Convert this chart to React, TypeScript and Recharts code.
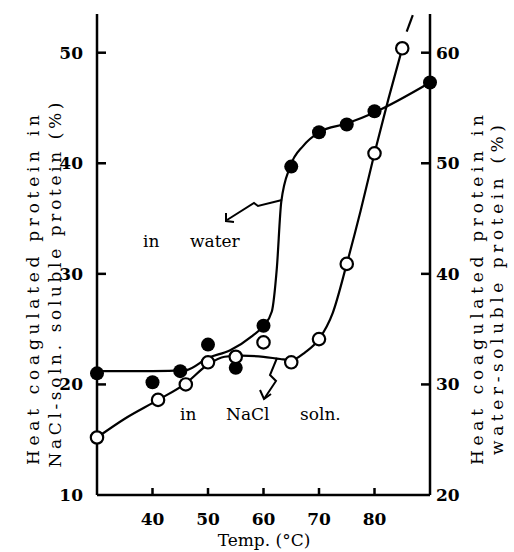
import React from "react";
import { ComposedChart, Line, Scatter, XAxis, YAxis } from "recharts";

// measured points, water-soluble (right axis, %)
const waterTemps = [30, 40, 45, 50, 55, 60, 65, 70, 75, 80, 90];
const waterPct = [31.0, 30.2, 31.2, 33.6, 31.5, 35.3, 49.7, 52.8, 53.5, 54.7, 57.3];

// measured points, NaCl-soln. soluble (left axis, %)
const naclTemps = [30, 41, 46, 50, 55, 60, 65, 70, 75, 80, 85];
const naclPct = [15.2, 18.6, 20.0, 22.0, 22.5, 23.8, 22.0, 24.1, 30.9, 40.9, 50.4];

// hand-drawn fitted curves
const waterCurveT = [30, 40, 46, 50, 54, 58, 60, 61.5, 62.4, 63.2, 64.8, 67.2, 70, 75, 80, 90];
const waterCurveV = [31.2, 31.2, 31.3, 32.4, 33.1, 34.4, 35.3, 36.6, 40.5, 46.5, 49.7, 51.6, 52.8, 53.6, 54.6, 57.3];

const naclCurveT = [30, 35, 41, 46, 50, 53, 56, 60, 63, 65, 67.5, 70, 72.5, 75, 77.5, 80, 82.5, 85];
const naclCurveV = [15.2, 16.9, 18.6, 20.1, 21.8, 22.5, 22.6, 22.5, 22.3, 22.2, 22.9, 24.1, 26.5, 30.9, 35.7, 40.9, 45.8, 50.4];

const naclDashT = [85.8, 86.9];
const naclDashV = [51.9, 53.4];

const xTicks = [40, 50, 60, 70, 80];
const leftTicks = [10, 20, 30, 40, 50];
const rightTicks = [20, 30, 40, 50, 60];

const zip = (ts: number[], vs: number[]) => ts.map((t, i) => ({ t, v: vs[i] }));

const waterPoints = zip(waterTemps, waterPct);
const naclPoints = zip(naclTemps, naclPct);
const waterCurve = zip(waterCurveT, waterCurveV);
const naclCurve = zip(naclCurveT, naclCurveV);
const naclDash = zip(naclDashT, naclDashV);

const FONT = "'DejaVu Serif', 'Liberation Serif', serif";

const FilledDot = (p: any) => <circle cx={p.cx} cy={p.cy} r={7} fill="#000" />;
const OpenDot = (p: any) => (
  <circle cx={p.cx} cy={p.cy} r={6.2} fill="#fff" stroke="#000" strokeWidth={2.2} />
);

const LeftTick = (p: any) => {
  const v = p.payload.value;
  const ax = p.x + 14;
  return (
    <g>
      {v !== 10 && <line x1={ax} x2={ax + 9} y1={p.y} y2={p.y} stroke="#000" strokeWidth={2.5} />}
      <text x={p.x} y={p.y + 6} textAnchor="end" fontFamily={FONT} fontSize={17} fontWeight="bold" fill="#000">
        {v}
      </text>
    </g>
  );
};

const RightTick = (p: any) => {
  const v = p.payload.value;
  const ax = p.x - 6;
  return (
    <g>
      {v !== 20 && <line x1={ax - 9} x2={ax} y1={p.y} y2={p.y} stroke="#000" strokeWidth={2.5} />}
      <text x={p.x} y={p.y + 6} textAnchor="start" fontFamily={FONT} fontSize={17} fontWeight="bold" fill="#000">
        {v}
      </text>
    </g>
  );
};

const BottomTick = (p: any) => {
  const v = p.payload.value;
  return (
    <g>
      <line x1={p.x} x2={p.x} y1={p.y} y2={p.y - 7} stroke="#000" strokeWidth={2.5} />
      <text x={p.x} y={p.y + 30} textAnchor="middle" fontFamily={FONT} fontSize={17} fontWeight="bold" fill="#000">
        {v}
      </text>
    </g>
  );
};

export default function App() {
  return (
    <div style={{ position: "absolute", left: 0, top: 0, width: 514, height: 552, background: "#fff" }}>
      <ComposedChart width={514} height={552} margin={{ top: 14, right: 0, bottom: 0, left: 0 }}>
        <XAxis
          dataKey="t"
          type="number"
          domain={[30, 90]}
          ticks={xTicks}
          height={57}
          tickSize={0}
          tickMargin={0}
          tick={<BottomTick />}
          axisLine={{ stroke: "#000", strokeWidth: 2.5 }}
          tickLine={false}
        />
        <YAxis
          yAxisId="left"
          type="number"
          domain={[10, 53.5]}
          ticks={leftTicks}
          width={97}
          tickSize={0}
          tickMargin={14}
          tick={<LeftTick />}
          axisLine={{ stroke: "#000", strokeWidth: 2.5 }}
          tickLine={false}
        />
        <YAxis
          yAxisId="right"
          orientation="right"
          type="number"
          domain={[20, 63.5]}
          ticks={rightTicks}
          width={84}
          tickSize={0}
          tickMargin={6}
          tick={<RightTick />}
          axisLine={{ stroke: "#000", strokeWidth: 2.5 }}
          tickLine={false}
        />
        <Line data={waterCurve} dataKey="v" yAxisId="right" type="monotone" dot={false} stroke="#000" strokeWidth={2.2} isAnimationActive={false} />
        <Line data={naclCurve} dataKey="v" yAxisId="left" type="monotone" dot={false} stroke="#000" strokeWidth={2.2} isAnimationActive={false} />
        <Line data={naclDash} dataKey="v" yAxisId="left" type="linear" dot={false} stroke="#000" strokeWidth={2.2} isAnimationActive={false} />
        <Scatter data={waterPoints} dataKey="v" yAxisId="right" shape={FilledDot} isAnimationActive={false} />
        <Scatter data={naclPoints} dataKey="v" yAxisId="left" shape={OpenDot} isAnimationActive={false} />
      </ComposedChart>
      <svg width={514} height={552} style={{ position: "absolute", left: 0, top: 0, pointerEvents: "none" }} fontFamily={FONT} fill="#000">
        <text transform="translate(39,290) rotate(-90)" textAnchor="middle" fontSize={17} textLength={350} lengthAdjust="spacing">
          Heat coagulated protein in
        </text>
        <text transform="translate(61,285) rotate(-90)" textAnchor="middle" fontSize={17} textLength={365} lengthAdjust="spacing">
          NaCl-soln. soluble protein (%)
        </text>
        <text transform="translate(483,290) rotate(-90)" textAnchor="middle" fontSize={17} textLength={350} lengthAdjust="spacing">
          Heat coagulated protein in
        </text>
        <text transform="translate(503,290) rotate(-90)" textAnchor="middle" fontSize={17} textLength={330} lengthAdjust="spacing">
          water-soluble protein (%)
        </text>
        <text x={264} y={546} textAnchor="middle" fontSize={17}>
          Temp. (°C)
        </text>
        <text x={143} y={247} fontSize={17}>in</text>
        <text x={190} y={247} fontSize={17}>water</text>
        <text x={180} y={420} fontSize={17}>in</text>
        <text x={226} y={420} fontSize={17}>NaCl</text>
        <text x={300} y={420} fontSize={17}>soln.</text>
        <g fill="none" stroke="#000" strokeWidth={2}>
          <polyline points="282,200 258,206 254,203 227,220" />
          <polyline points="226,213 226,221 234,222" />
          <polyline points="277,358 270,375 276,381 264,399" />
          <polyline points="260,390 264,399 271,394" />
        </g>
      </svg>
    </div>
  );
}
